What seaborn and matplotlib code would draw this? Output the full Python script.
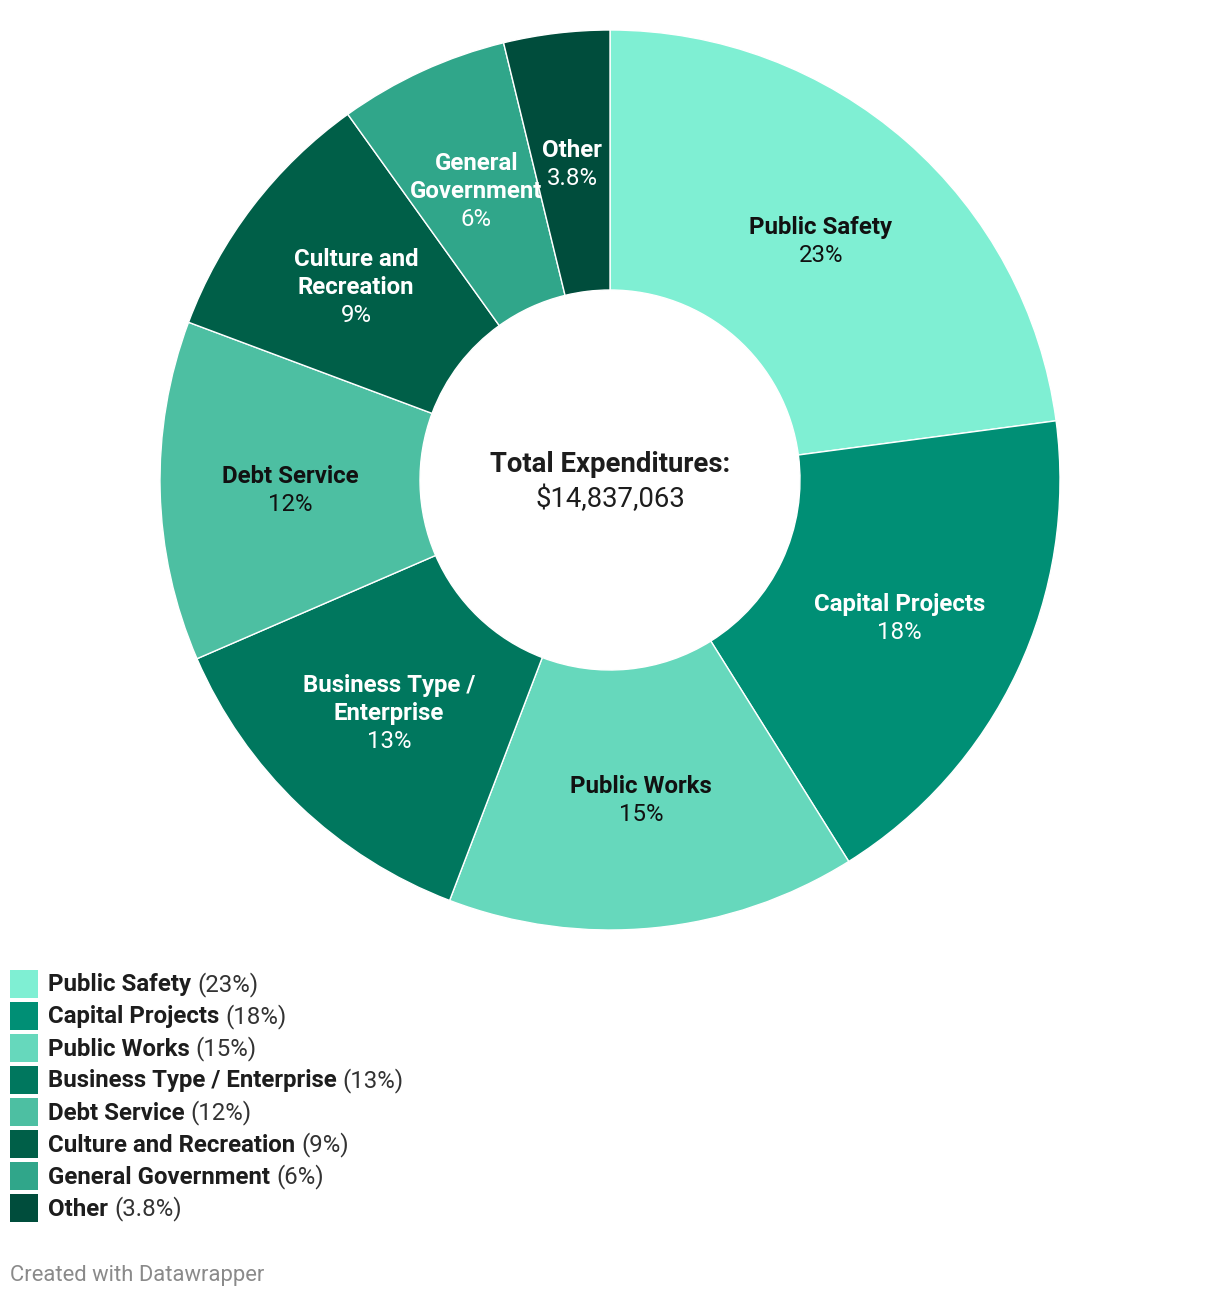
import matplotlib
matplotlib.use("Agg")
import matplotlib.pyplot as plt
import seaborn as sns
import numpy as np

categories = ["Public Safety", "Capital Projects", "Public Works", "Business Type / Enterprise",
              "Debt Service", "Culture and Recreation", "General Government", "Other"]
slice_names = ["Public Safety", "Capital Projects", "Public Works", "Business Type /\nEnterprise",
               "Debt Service", "Culture and\nRecreation", "General\nGovernment", "Other"]
values = [22.9, 18.2, 14.7, 12.7, 12.2, 9.4, 6.1, 3.8]
pct_labels = ["23%", "18%", "15%", "13%", "12%", "9%", "6%", "3.8%"]
colors = ["#7FEFD3", "#008F75", "#66D8BC", "#00775E", "#4DBFA2", "#005F48", "#30A68A", "#004D3C"]
text_dark = [True, False, True, False, True, False, False, False]
center_title = "Total Expenditures:"
center_value = "$14,837,063"
footer = "Created with Datawrapper"

sns.set_theme(style="white")
plt.rcParams['font.family'] = ['Roboto', 'DejaVu Sans']

W, H = 1220, 1298
dpi = 100
fig = plt.figure(figsize=(W / dpi, H / dpi), dpi=dpi)
fig.patch.set_facecolor("white")

cx, cy, R = 610, 480, 450
ax = fig.add_axes([(cx - R) / W, (H - cy - R) / H, 2 * R / W, 2 * R / H])

inner = 190 / 450
wedges, _ = ax.pie(values, startangle=90, counterclock=False, colors=colors, radius=1,
                   wedgeprops=dict(width=1 - inner, edgecolor="white", linewidth=1.0))
ax.set_xlim(-1, 1)
ax.set_ylim(-1, 1)
ax.set_aspect("equal")
ax.axis("off")

px2pt = 72 / dpi
lab_fs = 24 * px2pt
line_px = 28
rmid = (1 + inner) / 2
for w, name, pct, dark in zip(wedges, slice_names, pct_labels, text_dark):
    th = np.deg2rad((w.theta1 + w.theta2) / 2)
    x, y = rmid * np.cos(th), rmid * np.sin(th)
    lines = name.split("\n")
    n = len(lines) + 1
    col = "#111111" if dark else "white"
    for i, ln in enumerate(lines + [pct]):
        off = (-(i - (n - 1) / 2) * line_px - 2) * px2pt
        ax.annotate(ln, (x, y), xytext=(0, off), textcoords="offset points",
                    ha="center", va="center", fontsize=lab_fs, color=col,
                    fontweight="bold" if i < len(lines) else "normal")

ax.annotate(center_title, (0, 0), xytext=(0, 15 * px2pt), textcoords="offset points",
            ha="center", va="center", fontsize=27.5 * px2pt, fontweight="bold", color="#1d1d1d")
ax.annotate(center_value, (0, 0), xytext=(0, -19 * px2pt), textcoords="offset points",
            ha="center", va="center", fontsize=27.5 * px2pt, color="#1d1d1d")

# legend
fig.canvas.draw()
renderer = fig.canvas.get_renderer()
row0 = 984
for i, (cat, pct, c) in enumerate(zip(categories, pct_labels, colors)):
    yc = row0 + 32 * i
    fig.patches.append(plt.Rectangle((10 / W, (H - yc - 14) / H), 28 / W, 28 / H,
                                     transform=fig.transFigure, facecolor=c, edgecolor="none"))
    t = fig.text(48 / W, (H - yc - 1) / H, cat, ha="left", va="center", fontsize=lab_fs,
                 fontweight="bold", color="#1d1d1d")
    bb = t.get_window_extent(renderer)
    fig.text((bb.x1 + 6) / W, (H - yc - 1) / H, f"({pct})", ha="left", va="center",
             fontsize=lab_fs, color="#333333")

fig.text(10 / W, (H - 1275) / H, footer, ha="left", va="center", fontsize=22 * px2pt, color="#8a8a8a")

fig.savefig("out.png", dpi=dpi, facecolor="white")
